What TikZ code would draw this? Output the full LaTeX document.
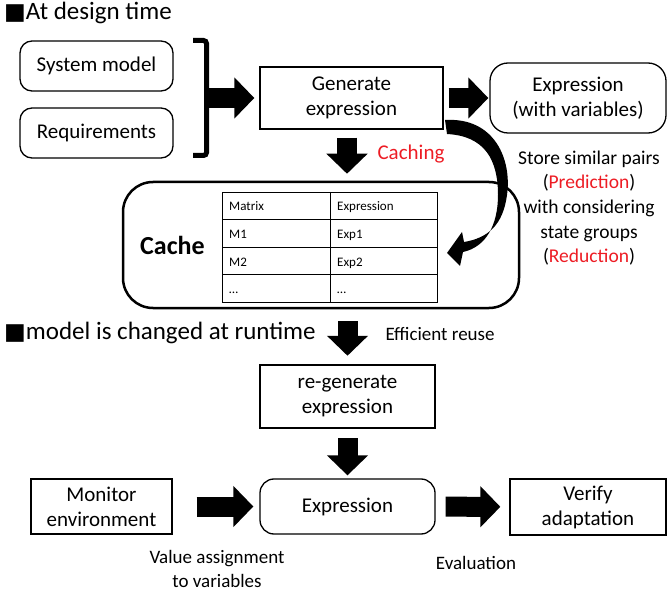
\documentclass[tikz,border=0pt]{standalone}
\usepackage{fontspec}
\setmainfont{Carlito}
\newfontfamily\sqfont{DejaVu Sans}
\usetikzlibrary{arrows.meta}
\definecolor{hired}{RGB}{237,28,36}

\begin{document}
\begin{tikzpicture}[x=1pt,y=-1pt,
  every node/.style={font=\fontsize{21}{25}\selectfont},
  box/.style={draw,line width=1.3pt,align=center,inner sep=0pt},
  rbox/.style={box,rounded corners=#1},rbox/.default=12pt,
  fat/.style={line width=20pt,-{Triangle[length=20pt,width=40pt]}},
  note/.style={align=center,font=\fontsize{19}{24}\selectfont},
  cell/.style={anchor=base west,inner sep=0pt,font=\fontsize{13}{15}\selectfont},
  hdr/.style={anchor=base west,inner sep=0pt,font=\fontsize{25}{30}\selectfont}]
\useasboundingbox (0,0) rectangle (667,596);
\node[hdr] (h1) at (4,20) {{\sqfont\fontsize{23}{23}\selectfont ■}At design time};
\node[rbox,minimum width=153pt,minimum height=50pt] (sysm) at (96.5,66) {System model};
\node[rbox,minimum width=153pt,minimum height=50pt] (req) at (96.5,133) {Requirements};
\draw[line width=5pt,rounded corners=3pt] (193,40.5) -- (206.5,40.5) -- (206.5,155.5) -- (193,155.5);
\coordinate (brk) at (206.5,98);
\node[box,minimum width=183pt,minimum height=62pt] (gen) at (351.5,98) {Generate\\expression};
\node[rbox=18pt,minimum width=176pt,minimum height=70pt] (expvar) at (578,98) {Expression\\(with variables)};
\draw[fat,shorten >=5pt] (brk) -- (gen);
\draw[fat,shorten <=5pt,shorten >=1pt] (gen) -- (expvar);
\node[anchor=base west,text=hired] (cach) at (374,160) {Caching};
\node[rbox=30pt,line width=2.5pt,minimum width=396pt,minimum height=126pt] (cache) at (321,245) {};
\node[anchor=base,font=\bfseries\fontsize{26}{30}\selectfont] (cachelbl) at (172.5,255) {Cache};
\draw[line width=0.8pt] (222,192) rectangle (437,302) (330,192) -- (330,302);
\foreach \y in {219.5,247,274.5} \draw[line width=0.8pt] (222,\y) -- (437,\y);
\foreach \a/\b [count=\i] in {Matrix/Expression,M1/Exp1,M2/Exp2,…/…}{
  \node[cell] (ma\i) at (229,183.5+27.5*\i) {\a};
  \node[cell] (ex\i) at (337,183.5+27.5*\i) {\b};
}
\draw[fat,shorten <=8pt,shorten >=7pt] (gen.south -| 347,0) -- (cache.north -| 347,0);
\coordinate (cvs) at (445,120);
\coordinate (cvi) at (447,134);
\coordinate (cve) at (447,253);
\fill (cvs) .. controls (495,117) and (512,160) .. (507,195) .. controls (503,225) and (488,238) .. (464,242)
  -- (462,232) -- (cve) -- (460,266) -- (463,252) .. controls (486,247) and (498,225) .. (498,195)
  .. controls (498,160) and (485,136) .. (cvi) -- cycle;
\node[note,font=\fontsize{19.5}{24.7}\selectfont] (pred) at (589,208) {Store similar pairs\\(\textcolor{hired}{Prediction})\\with considering\\state groups\\(\textcolor{hired}{Reduction})};
\node[hdr] (h2) at (4,339) {{\sqfont\fontsize{23}{23}\selectfont ■}model is changed at runtime};
\node[box,line width=2.5pt,minimum width=175pt,minimum height=63pt] (regen) at (347.5,396.5) {re-generate\\expression};
\draw[fat,shorten <=12pt,shorten >=8pt] (cache.south -| regen) -- (regen);
\node[note,anchor=base west] (reuse) at (382,341) {Efficient reuse};
\node[rbox=14pt,minimum width=175pt,minimum height=55pt] (expr) at (347.5,506.5) {Expression};
\node[box,minimum width=141pt,minimum height=55pt] (mon) at (101.5,506.5) {Monitor\\environment};
\node[box,minimum width=156pt,minimum height=56pt] (ver) at (588,507) {Verify\\adaptation};
\draw[fat,shorten <=9pt,shorten >=3pt] (regen) -- (expr);
\draw[fat,shorten <=24pt,shorten >=6pt] (mon) -- (expr);
\draw[fat,shorten <=10pt,shorten >=9pt] (expr) -- (ver);
\node[note] (assign) at (217,569) {Value assignment\\to variables};
\node[note,anchor=base] (evalu) at (476,569) {Evaluation};
\end{tikzpicture}
\end{document}
